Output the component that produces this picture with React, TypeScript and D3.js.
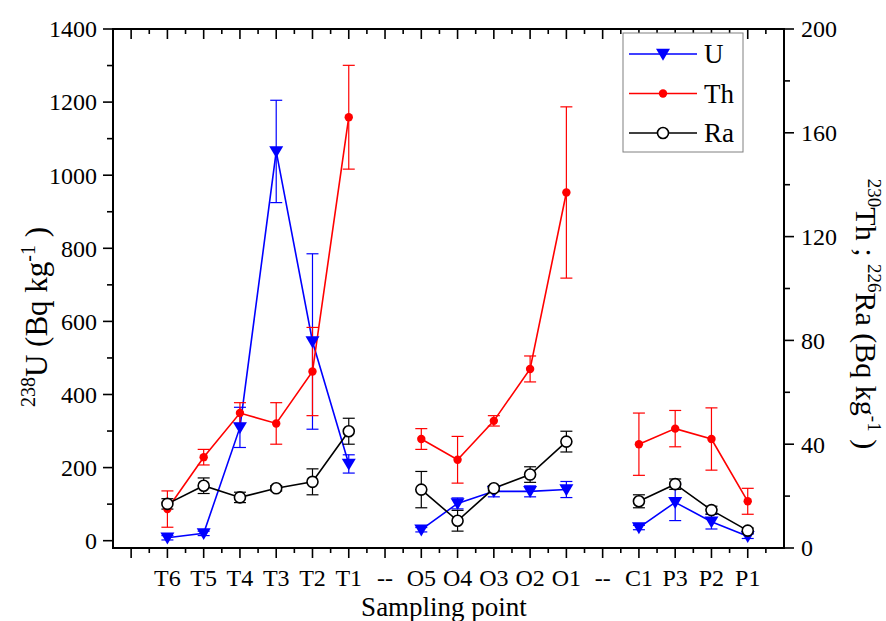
import * as d3 from "d3";

const categories = ["T6", "T5", "T4", "T3", "T2", "T1", "--", "O5", "O4", "O3", "O2", "O1", "--", "C1", "P3", "P2", "P1"];

// 238U, left axis
const uValues = [8, 20, 310, 1065, 545, 210, null, 30, 102, 135, 135, 140, null, 36, 105, 52, 12];
const uErrors = [6, 6, 55, 140, 240, 25, null, 6, 15, 15, 15, 22, null, 6, 50, 20, 6];
// 230Th, right axis
const thValues = [15, 35, 52, 48, 68, 166, null, 42, 34, 49, 69, 137, null, 40, 46, 42, 18];
const thErrors = [7, 3, 4, 8, 17, 20, null, 4, 9, 2, 5, 33, null, 12, 7, 12, 5];
// 226Ra, right axis
const raValues = [17, 24, 19.5, 23, 25.5, 45, null, 22.5, 10.5, 23, 28.3, 41, null, 18, 24.6, 14.6, 6.7];
const raErrors = [2, 3, 2, 1, 5, 5, null, 7, 4, 1, 3, 4, null, 2.5, 2, 1.5, 1];

const leftTicks = [0, 200, 400, 600, 800, 1000, 1200, 1400];
const rightTicks = [0, 40, 80, 120, 160, 200];

const W = 886;
const H = 621;
const FONT = "Liberation Serif";

export default function App() {
  const x = d3.scaleLinear().domain([-1.5, 17]).range([113, 784]);
  const yL = d3.scaleLinear().domain([-20, 1400]).range([548, 29]);
  const yR = d3.scaleLinear().domain([0, 200]).range([548, 29]);

  const [x0, x1] = x.range();
  const [yb, yt] = yL.range();

  const series = [
    { name: "U", values: uValues, errors: uErrors, y: yL, color: "#0000ff", marker: "tri" },
    { name: "Th", values: thValues, errors: thErrors, y: yR, color: "#ff0000", marker: "dot" },
    { name: "Ra", values: raValues, errors: raErrors, y: yR, color: "#000000", marker: "circle" },
  ];

  const marker = (kind, cx, cy, color, key) => {
    if (kind === "tri") {
      const s = 7;
      return <path key={key} d={`M${cx - s},${cy - s * 0.75}L${cx + s},${cy - s * 0.75}L${cx},${cy + s * 0.95}Z`} fill={color} />;
    }
    if (kind === "dot") return <circle key={key} cx={cx} cy={cy} r={4.2} fill={color} />;
    return <circle key={key} cx={cx} cy={cy} r={5.5} fill="#fff" stroke={color} strokeWidth={1.6} />;
  };

  const xTicks = d3.range(-1, 17, 0.5);
  const txt = { fontFamily: FONT };

  return (
    <svg width={W} height={H} style={{ position: "absolute", left: 0, top: 0, background: "#fff", fontFamily: FONT }}>
      {/* series lines */}
      {series.map((s) => {
        const line = d3
          .line()
          .defined((d) => d != null)
          .x((d, i) => x(i))
          .y((d) => s.y(d));
        return <path key={"l" + s.name} d={line(s.values)} fill="none" stroke={s.color} strokeWidth={1.6} />;
      })}
      {/* error bars */}
      {series.map((s) =>
        s.values.map((v, i) => {
          if (v == null) return null;
          const cx = x(i);
          const top = s.y(v + s.errors[i]);
          const bot = s.y(v - s.errors[i]);
          return (
            <g key={"e" + s.name + i} stroke={s.color} strokeWidth={1.2}>
              <line x1={cx} x2={cx} y1={top} y2={bot} />
              <line x1={cx - 6} x2={cx + 6} y1={top} y2={top} />
              <line x1={cx - 6} x2={cx + 6} y1={bot} y2={bot} />
            </g>
          );
        })
      )}
      {/* markers */}
      {series.map((s) => s.values.map((v, i) => (v == null ? null : marker(s.marker, x(i), s.y(v), s.color, "m" + s.name + i))))}

      {/* frame */}
      <rect x={x0} y={yt} width={x1 - x0} height={yb - yt} fill="none" stroke="#000" strokeWidth={2} />

      {/* x ticks: bottom outward, top inward */}
      {xTicks.map((t) => {
        const major = Number.isInteger(t);
        const len = major ? 10 : 5;
        return (
          <g key={"xt" + t} stroke="#000" strokeWidth={1.6}>
            <line x1={x(t)} x2={x(t)} y1={yb} y2={yb + len} />
            <line x1={x(t)} x2={x(t)} y1={yt} y2={yt + len} />
          </g>
        );
      })}
      {categories.map((c, i) => (
        <text key={"xl" + i} x={x(i)} y={586} textAnchor="middle" fontSize={24} style={txt}>
          {c}
        </text>
      ))}

      {/* left axis */}
      {d3.range(0, 1401, 100).map((t) => {
        const major = t % 200 === 0;
        return <line key={"ly" + t} x1={x0} x2={x0 - (major ? 10 : 6)} y1={yL(t)} y2={yL(t)} stroke="#000" strokeWidth={1.6} />;
      })}
      {leftTicks.map((t) => (
        <text key={"lyl" + t} x={97} y={yL(t)} dy="0.35em" textAnchor="end" fontSize={24} style={txt}>
          {t}
        </text>
      ))}

      {/* right axis */}
      {d3.range(0, 201, 20).map((t) => {
        const major = t % 40 === 0;
        return <line key={"ry" + t} x1={x1} x2={x1 + (major ? 10 : 6)} y1={yR(t)} y2={yR(t)} stroke="#000" strokeWidth={1.6} />;
      })}
      {rightTicks.map((t) => (
        <text key={"ryl" + t} x={801} y={yR(t)} dy="0.35em" textAnchor="start" fontSize={24} style={txt}>
          {t}
        </text>
      ))}

      {/* axis titles */}
      <text x={444} y={616} textAnchor="middle" fontSize={27} style={txt}>
        Sampling point
      </text>
      <text transform="translate(47,317) rotate(-90)" textAnchor="middle" fontSize={31} style={txt}>
        <tspan fontSize={20} dy={-12}>238</tspan>
        <tspan dy={12}>U (Bq kg</tspan>
        <tspan fontSize={20} dy={-12}>-1</tspan>
        <tspan dy={12}> )</tspan>
      </text>
      <text transform="translate(856,314) rotate(90)" textAnchor="middle" fontSize={30} style={txt}>
        <tspan fontSize={19} dy={-12}>230</tspan>
        <tspan dy={12}>Th ; </tspan>
        <tspan fontSize={19} dy={-12}>226</tspan>
        <tspan dy={12}>Ra (Bq kg</tspan>
        <tspan fontSize={19} dy={-12}>-1</tspan>
        <tspan dy={12}> )</tspan>
      </text>

      {/* legend */}
      <rect x={623} y={33} width={120} height={119} fill="#fff" stroke="#808080" strokeWidth={1} />
      {series.map((s, i) => {
        const ly = 54 + i * 39.5;
        return (
          <g key={"lg" + s.name}>
            <line x1={629} x2={697} y1={ly} y2={ly} stroke={s.color} strokeWidth={1.6} />
            {marker(s.marker, 663, ly, s.color, "lm" + s.name)}
            <text x={704} y={ly} dy="0.35em" fontSize={27} style={txt}>
              {s.name}
            </text>
          </g>
        );
      })}
    </svg>
  );
}
